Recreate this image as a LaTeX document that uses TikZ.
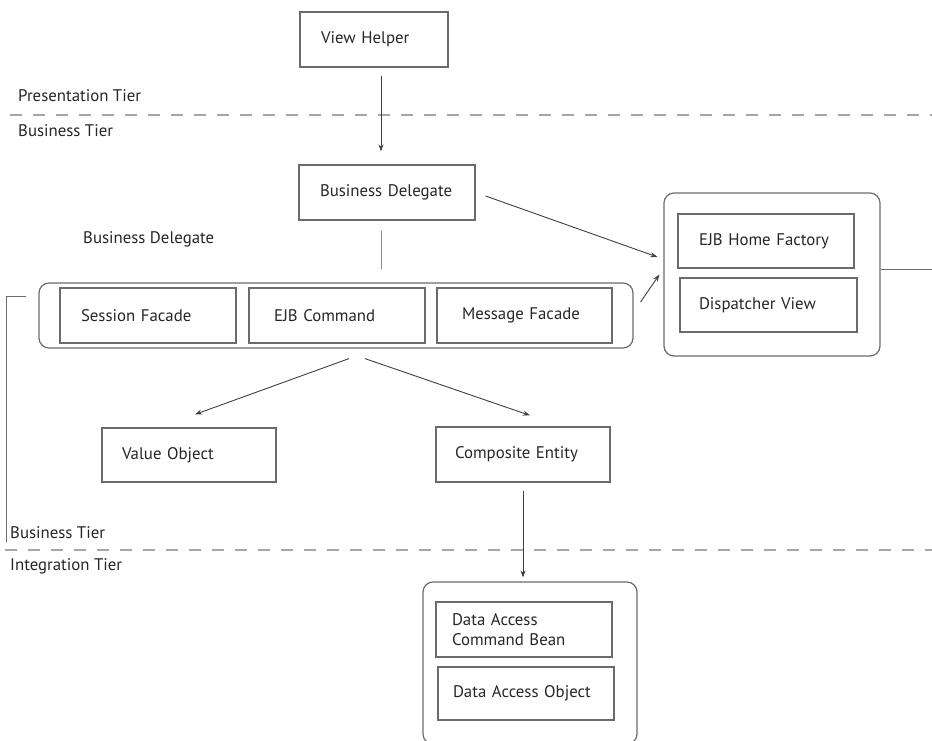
\documentclass[tikz,border=0pt]{standalone}
\usepackage{fontspec}
\setmainfont{PT Sans}
\usetikzlibrary{arrows.meta}

\definecolor{boxc}{gray}{0.42}
\definecolor{txtc}{gray}{0.15}

\begin{document}
\begin{tikzpicture}[x=1pt,y=-1pt,
  box/.style={draw=boxc,line width=1.2pt,text width=#1,inner xsep=21pt,
    minimum height=55pt,align=left,text=txtc,font=\fontsize{16.8}{20.5}\selectfont},
  box/.default=134pt,
  grp/.style={draw=boxc,line width=1.2pt,rounded corners=10pt},
  lbl/.style={anchor=west,inner sep=0pt,text=txtc,font=\fontsize{16.8}{18.5}\selectfont},
  arr/.style={-{Stealth[length=7pt,width=5pt]},line width=0.9pt,draw=black!75},
  link/.style={draw=black!45,line width=1pt},
  tier/.style={draw=black!35,line width=1.4pt,dash pattern=on 12pt off 11pt}
]
  \useasboundingbox (0,0) rectangle (932,740);
  % tiers
  \node[lbl] (pt) at (18,96) {Presentation Tier};
  \node[lbl] (bt1) at (18,131) {Business Tier};
  \node[lbl] (bt2) at (10,533) {Business Tier};
  \node[lbl] (it) at (10,566) {Integration Tier};
  \coordinate (d1a) at (10,115); \coordinate (d1b) at (932,115);
  \coordinate (d2a) at (5,550); \coordinate (d2b) at (932,550);
  \draw[tier] (d1a) -- (d1b);
  \draw[tier] (d2a) -- (d2b);
  % top
  \node[box=106pt] (vh) at (374,39.5) {View Helper};
  \node[box] (bd) at (387,192.5) {Business Delegate};
  \node[lbl] (bdl) at (83,239) {Business Delegate};
  % facades
  \node[grp,minimum width=594pt,minimum height=65pt] (fac) at (336,315.5) {};
  \node[box] (sf) at (148,315.5) {Session Facade};
  \node[box,inner xsep=25pt,text width=126pt] (ec) at (337,315.5) {EJB Command};
  \node[box,inner xsep=25pt,text width=125pt] (mf) at (524.5,315.5) {Message Facade};
  % home factory
  \node[grp,minimum width=216pt,minimum height=163pt] (hf) at (772,274.5) {};
  \node[box,minimum height=54pt] (ehf) at (766,241) {EJB Home Factory};
  \node[box,inner xsep=19pt,text width=139pt,minimum height=54pt] (dv) at (768.5,305) {Dispatcher View};
  % objects
  \node[box=134pt,inner xsep=20pt,minimum height=54pt] (vo) at (189,455) {Value Object};
  \node[box=136pt,inner xsep=19pt] (ce) at (523,454.5) {Composite Entity};
  % data access
  \node[grp,minimum width=214pt,minimum height=162pt] (da) at (530,663) {};
  \node[box,inner xsep=16pt,text width=144pt] (dacb) at (524,629.5) {Data Access\\Command Bean};
  \node[box,inner xsep=15pt,text width=146pt,minimum height=53pt] (dao) at (526,693.5) {Data Access Object};
  % connectors
  \draw[arr,shorten <=8pt,shorten >=13pt] ([xshift=7pt]vh.south) -- ([xshift=7pt]vh.south |- bd.north);
  \draw[link,shorten <=10pt,shorten >=13pt] ([xshift=-6pt]bd.south) -- ([xshift=-6pt]bd.south |- fac.north);
  \draw[arr] ([xshift=10pt,yshift=-3.5pt]bd.east) -- ([xshift=-6pt,yshift=17.5pt]hf.west);
  \draw[arr] ([xshift=7pt,yshift=13.5pt]fac.east) -- ([xshift=-4pt]hf.west);
  \coordinate (hfe) at (932,269);
  \draw[link,draw=boxc] ([yshift=5.5pt]hf.east) -- (hfe);
  \coordinate (bk) at (6,542);
  \draw[link,draw=boxc] ([xshift=-12pt,yshift=19.5pt]fac.west) -| (bk);
  \draw[arr] ([xshift=12pt,yshift=-15pt]ec.south) -- ([xshift=6pt,yshift=13pt]vo.north);
  \draw[arr] ([xshift=28pt,yshift=-15pt]ec.south) -- ([xshift=7pt,yshift=11pt]ce.north);
  \draw[arr,shorten <=8pt,shorten >=4pt] (ce.south) -- (ce.south |- da.north);
\end{tikzpicture}
\end{document}
